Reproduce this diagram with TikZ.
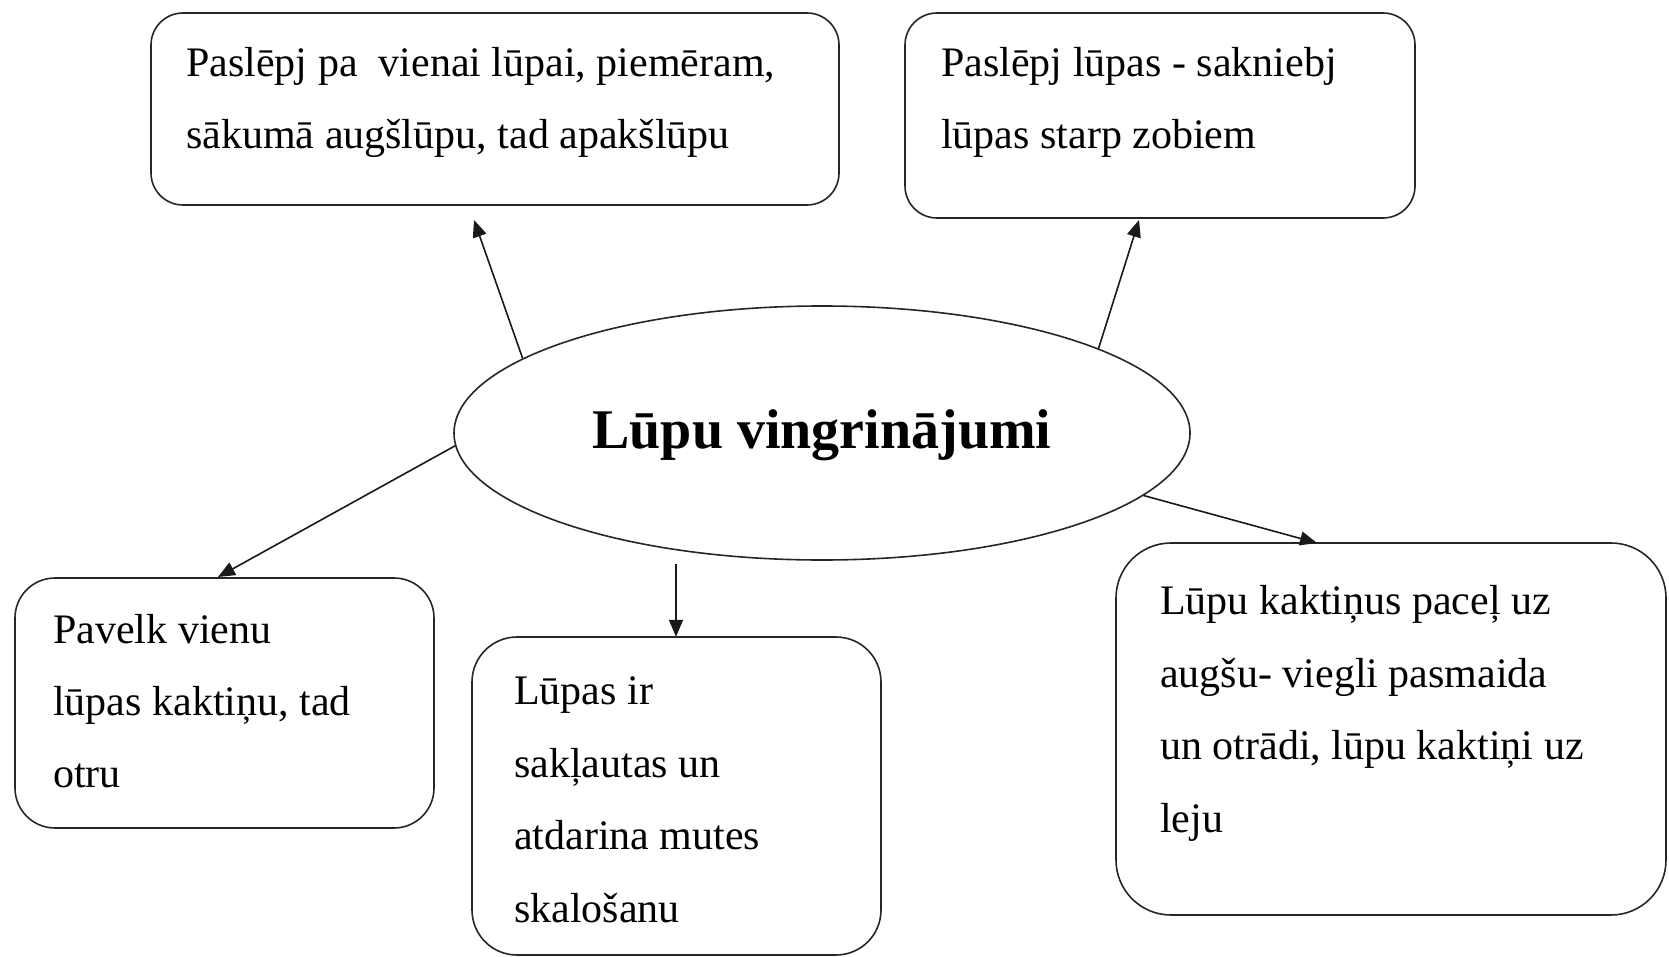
\documentclass[tikz,border=0pt]{standalone}
\usepackage{fontspec}
\setmainfont{Liberation Serif}
\usetikzlibrary{arrows.meta,shapes.geometric}
\tikzset{
  rbox/.style={draw=black!85, line width=1.6pt, rounded corners=#1},
  txt/.style={anchor=base west, inner sep=0pt, font=\fontsize{42}{50}\selectfont},
  arr/.style={draw=black!90, line width=1.6pt, -{Triangle[length=17pt,width=14pt]}},
}
\begin{document}
\begin{tikzpicture}[x=1pt,y=-1pt]
\useasboundingbox (0,0) rectangle (1669,957);
% boxes
\draw[rbox=32pt] (151,13) rectangle (839,205);
\node[inner sep=0pt, minimum width=688pt, minimum height=192pt] (b1) at (495,109) {};
\draw[rbox=32pt] (905,13) rectangle (1415,218);
\node[inner sep=0pt, minimum width=510pt, minimum height=205pt] (b2) at (1160,115.5) {};
\draw[rbox=40pt] (15,578) rectangle (434,828);
\node[inner sep=0pt, minimum width=419pt, minimum height=250pt] (b3) at (224.5,703) {};
\draw[rbox=45pt] (472,637) rectangle (881,955);
\node[inner sep=0pt, minimum width=409pt, minimum height=318pt] (b4) at (676.5,796) {};
\draw[rbox=55pt] (1116,543) rectangle (1666,915);
\node[inner sep=0pt, minimum width=550pt, minimum height=372pt] (b5) at (1391,729) {};
% ellipse
\node[draw=black!85, line width=1.6pt, ellipse, inner sep=0pt, minimum width=736pt, minimum height=254pt] (ell) at (822,433) {};
\node[anchor=base, inner sep=0pt, font=\fontsize{56}{60}\selectfont\bfseries] (title) at (822,448) {Lūpu vingrinājumi};
% texts
\node[txt] (t1a) at (186,77) {Paslēpj pa\ \ vienai lūpai, piemēram,};
\node[txt] (t1b) at (186,149) {sākumā augšlūpu, tad apakšlūpu};
\node[txt] (t2a) at (941,77) {Paslēpj lūpas - sakniebj};
\node[txt] (t2b) at (941,149) {lūpas starp zobiem};
\node[txt] (t3a) at (53,643) {Pavelk vienu};
\node[txt] (t3b) at (53,715) {lūpas kaktiņu, tad};
\node[txt] (t3c) at (53,787) {otru};
\node[txt] (t4a) at (514,704) {Lūpas ir};
\node[txt] (t4b) at (514,777) {sakļautas un};
\node[txt] (t4c) at (514,849) {atdarina mutes};
\node[txt] (t4d) at (514,922) {skalošanu};
\node[txt] (t5a) at (1160,614) {Lūpu kaktiņus paceļ uz};
\node[txt] (t5b) at (1160,687) {augšu- viegli pasmaida};
\node[txt] (t5c) at (1160,759) {un otrādi, lūpu kaktiņi uz};
\node[txt] (t5d) at (1160,832) {leju};
% arrow ends
\coordinate (e1) at (474,220);
\coordinate (e2) at (1139,220);
\coordinate (e3) at (218,577);
\coordinate (s4) at (676,564);
\coordinate (e5) at (1317,543);
\draw[arr] (ell.166) -- (e1);
\draw[arr] (ell.17) -- (e2);
\draw[arr] (ell.182) -- (e3);
\draw[arr] (s4) -- (s4 |- b4.north);
\draw[arr] (ell.-11) -- (e5);
\end{tikzpicture}
\end{document}
